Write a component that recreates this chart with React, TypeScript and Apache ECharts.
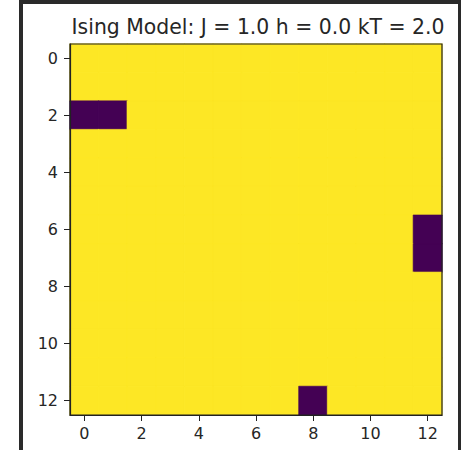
import React, { useEffect, useRef } from "react";
import * as echarts from "echarts";

const TITLE = "Ising Model: J = 1.0 h = 0.0 kT = 2.0";
const xTicks = ["0","1","2","3","4","5","6","7","8","9","10","11","12"];
const yTicks = ["0","1","2","3","4","5","6","7","8","9","10","11","12"];
// spin lattice, rows top to bottom
const spins: number[][] = [
  [1,1,1,1,1,1,1,1,1,1,1,1,1],
  [1,1,1,1,1,1,1,1,1,1,1,1,1],
  [-1,-1,1,1,1,1,1,1,1,1,1,1,1],
  [1,1,1,1,1,1,1,1,1,1,1,1,1],
  [1,1,1,1,1,1,1,1,1,1,1,1,1],
  [1,1,1,1,1,1,1,1,1,1,1,1,1],
  [1,1,1,1,1,1,1,1,1,1,1,1,-1],
  [1,1,1,1,1,1,1,1,1,1,1,1,-1],
  [1,1,1,1,1,1,1,1,1,1,1,1,1],
  [1,1,1,1,1,1,1,1,1,1,1,1,1],
  [1,1,1,1,1,1,1,1,1,1,1,1,1],
  [1,1,1,1,1,1,1,1,1,1,1,1,1],
  [1,1,1,1,1,1,1,1,-1,1,1,1,1],
];
const DOWN = "#440154";
const UP = "#fde725";

export default function App() {
  const ref = useRef<HTMLDivElement>(null);
  useEffect(() => {
    if (!ref.current) return;
    const chart = echarts.init(ref.current, undefined, { renderer: "svg" });
    const data: any[] = [];
    spins.forEach((row, r) =>
      row.forEach((v, c) => {
        const col = v < 0 ? DOWN : UP;
        data.push({ value: [c, r, v], itemStyle: { borderColor: col, borderWidth: 0.6 } });
      })
    );
    const font = "DejaVu Sans";
    const txt = "#262626";
    chart.setOption({
      animation: false,
      backgroundColor: "#ffffff",
      title: {
        text: TITLE,
        left: 253,
        textAlign: "center",
        top: 12,
        textStyle: { fontFamily: font, fontSize: 20.4, fontWeight: "normal", color: txt },
      },
      grid: {
        left: 70, top: 44, width: 372, height: 371,
        show: true, z: 10, backgroundColor: "transparent",
        borderColor: "#222", borderWidth: 1.2,
      },
      xAxis: {
        type: "category", data: xTicks, z: 10,
        axisLine: { show: true, lineStyle: { color: "#222", width: 1.2 } },
        axisTick: { show: true, alignWithLabel: true, interval: 1, length: 6, lineStyle: { color: "#222" } },
        axisLabel: { interval: 1, margin: 10, fontFamily: font, fontSize: 16, color: txt },
        splitLine: { show: false },
      },
      yAxis: {
        type: "category", data: yTicks, inverse: true, z: 10,
        axisLine: { show: true, lineStyle: { color: "#222", width: 1.2 } },
        axisTick: { show: true, alignWithLabel: true, interval: 1, length: 6, lineStyle: { color: "#222" } },
        axisLabel: { interval: 1, margin: 12, fontFamily: font, fontSize: 16, color: txt },
        splitLine: { show: false },
      },
      visualMap: {
        show: false, type: "piecewise",
        pieces: [
          { lt: 0, color: DOWN },
          { gte: 0, color: UP },
        ],
      },
      series: [{ type: "heatmap", data }],
      graphic: [
        { type: "rect", shape: { x: 19, y: 0, width: 4, height: 450 }, style: { fill: "#2a2a2a" } },
        { type: "rect", shape: { x: 19, y: 0, width: 442, height: 4 }, style: { fill: "#2a2a2a" } },
        { type: "rect", shape: { x: 458, y: 0, width: 3, height: 450 }, style: { fill: "#2a2a2a" } },
      ],
    });
    return () => chart.dispose();
  }, []);
  return <div ref={ref} style={{ position: "fixed", left: 0, top: 0, width: 461, height: 450 }} />;
}
